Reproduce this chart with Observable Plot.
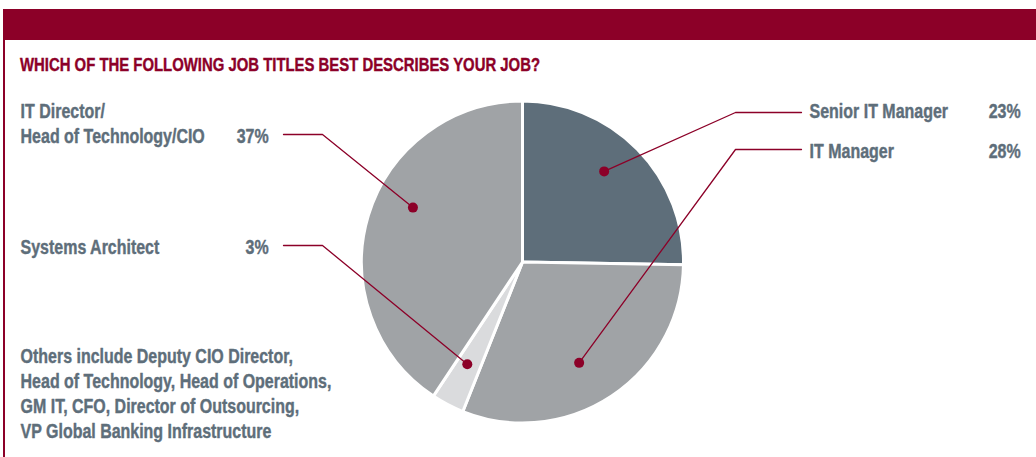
<!DOCTYPE html>
<html>
<head>
<meta charset="utf-8">
<script src="https://cdn.jsdelivr.net/npm/d3@7"></script>
<script src="https://cdn.jsdelivr.net/npm/@observablehq/plot@0.6"></script>
<style>
  body { margin: 0; background: #fff; }
  #wrap { position: relative; width: 1036px; height: 457px; overflow: hidden; font-family: "Liberation Sans", Arial, sans-serif; }
  .band { position: absolute; left: 3px; top: 9px; width: 1033px; height: 31px; background: #8c0028; }
  .rule { position: absolute; left: 3px; top: 40px; width: 1.5px; height: 417px; background: #8c0028; }
  .title { position: absolute; left: 20px; top: 55px; font-size: 19px; line-height: 19px; font-weight: bold; color: #8c0028; white-space: nowrap; transform-origin: 0 0; -webkit-text-stroke: 0.4px #8c0028; }
  #chart { position: absolute; left: 0; top: 80px; }
</style>
</head>
<body>
<div id="wrap">
  <div class="band"></div>
  <div class="rule"></div>
  <div class="title" id="title">WHICH OF THE FOLLOWING JOB TITLES BEST DESCRIBES YOUR JOB?</div>
  <div id="chart"></div>
</div>
<script>
// ---- data ----
const categories = ["Senior IT Manager", "IT Manager", "Systems Architect", "IT Director/\nHead of Technology/CIO"];
const values = [23, 28, 3, 37];
const pctLabels = ["23%", "28%", "3%", "37%"];
const note = "Others include Deputy CIO Director,\nHead of Technology, Head of Operations,\nGM IT, CFO, Director of Outsourcing,\nVP Global Banking Infrastructure";

// ---- styling / layout ----
const fontFamily = '"Liberation Sans", Arial, sans-serif';
const fontSize = 19.5;
const sliceColors = ["#5e6e7a", "#a0a3a6", "#dadbdd", "#a0a3a6"];
const side = ["right", "right", "left", "left"];
const labelY = [117, 157, 253, 142];      // baseline of (last line of) label
const leaderY = [112, 149, 245, 134];
const dotShift = [-3.8, 4.4, 1, 9.7];      // degrees from slice mid-angle
const dotRadius = [122, 115, 116, 123];
const red = "#8c0028";
const textColor = "#5e6e7a";
const cx = 522.5, cy = 262, R = 161;
const lh = 25 / fontSize;

const pie = d3.pie().sort(null).value(d => d.value)(
  categories.map((c, i) => ({category: c, value: values[i], i}))
);

const rows = pie.map((p, i) => {
  const a = (p.startAngle + p.endAngle) / 2 + dotShift[i] * Math.PI / 180;
  return {
    category: categories[i], pct: pctLabels[i], side: side[i], i,
    dx: cx + dotRadius[i] * Math.sin(a), dy: cy - dotRadius[i] * Math.cos(a),
    ly: labelY[i], leadY: leaderY[i]
  };
});

const leaderPts = rows.flatMap(r => r.side === "left"
  ? [{x: 283, y: r.leadY, k: r.i}, {x: 322, y: r.leadY, k: r.i}, {x: r.dx, y: r.dy, k: r.i}]
  : [{x: 801, y: r.leadY, k: r.i}, {x: 735, y: r.leadY, k: r.i}, {x: r.dx, y: r.dy, k: r.i}]);

const pieMark = (index, scales) => {
  const g = d3.create("svg:g");
  const arc = d3.arc().innerRadius(0).outerRadius(R);
  g.selectAll("path").data(pie).join("path")
    .attr("transform", `translate(${scales.x(cx)},${scales.y(cy)})`)
    .attr("d", arc)
    .attr("fill", (d, i) => sliceColors[i])
    .attr("stroke", "#fff")
    .attr("stroke-width", 3)
    .attr("stroke-linejoin", "round");
  return g.node();
};

const textOpts = {fill: textColor, fontWeight: "bold", stroke: textColor, strokeWidth: 0.4};

const chart = Plot.plot({
  width: 1036,
  height: 377,
  margin: 0,
  x: {domain: [0, 1036], range: [0, 1036], axis: null},
  y: {domain: [80, 457], range: [0, 377], axis: null},
  style: {fontFamily, fontSize: fontSize + "px", background: "transparent"},
  marks: [
    pieMark,
    Plot.line(leaderPts, {x: "x", y: "y", z: "k", stroke: red, strokeWidth: 1.3}),
    Plot.dot(rows, {x: "dx", y: "dy", r: 5, fill: red}),
    Plot.text(rows, {x: d => d.side === "left" ? 20 : 809, y: "ly", text: "category", textAnchor: "start", lineAnchor: "bottom", lineHeight: lh, ...textOpts}),
    Plot.text(rows, {x: d => d.side === "left" ? 268 : 1020, y: "ly", text: "pct", textAnchor: "end", lineAnchor: "bottom", ...textOpts}),
    Plot.text([note], {x: 20, y: 437, text: d => d, textAnchor: "start", lineAnchor: "bottom", lineHeight: lh, ...textOpts})
  ]
});
document.getElementById("chart").appendChild(chart);

// condensed look: scale text horizontally around its anchor
const ctx = document.createElement("canvas").getContext("2d");
ctx.font = `bold ${fontSize}px ${fontFamily}`;
const f = 311 / ctx.measureText("Head of Technology, Head of Operations,").width;
const svgRect = chart.getBoundingClientRect();
chart.querySelectorAll("text").forEach(t => {
  const r = t.getBoundingClientRect();
  const anchorEl = t.closest("[text-anchor]");
  const anchor = anchorEl ? anchorEl.getAttribute("text-anchor") : "start";
  const ax = (anchor === "end" ? r.right : r.left) - svgRect.left;
  const g = document.createElementNS("http://www.w3.org/2000/svg", "g");
  g.setAttribute("transform", `translate(${ax},0) scale(${f},1) translate(${-ax},0)`);
  t.parentNode.insertBefore(g, t);
  g.appendChild(t);
});
const title = document.getElementById("title");
title.style.transform = `scaleX(${520 / title.getBoundingClientRect().width})`;
</script>
</body>
</html>
